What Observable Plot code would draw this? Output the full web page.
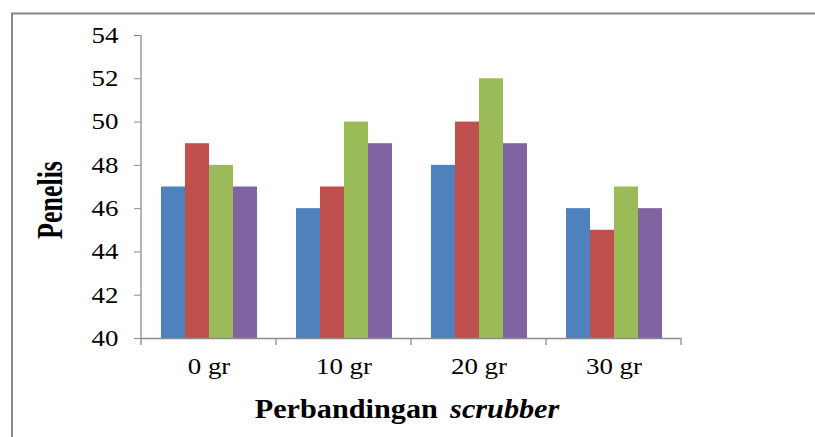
<!DOCTYPE html>
<html><head><meta charset="utf-8">
<script src="https://cdn.jsdelivr.net/npm/d3@7"></script>
<script src="https://cdn.jsdelivr.net/npm/@observablehq/plot@0.6"></script>
<style>body{margin:0;background:#fff} svg text{font-family:"Liberation Serif","Times New Roman",Times,serif;}</style>
</head><body><div id="chart"></div>
<script>
const groups = ["0 gr", "10 gr", "20 gr", "30 gr"];
const series = ["Seri 1", "Seri 2", "Seri 3", "Seri 4"];
const colors = ["#4F81BD", "#C0504D", "#9BBB59", "#8064A2"];
const seri1 = [47, 46, 48, 46];
const seri2 = [49, 47, 50, 45];
const seri3 = [48, 50, 52, 47];
const seri4 = [47, 49, 49, 46];
const yTicks = [40, 42, 44, 46, 48, 50, 52, 54];
const yLabel = "Penelis";
const xLabelMain = "Perbandingan";
const xLabelItalic = "scrubber";

const allSeries = [seri1, seri2, seri3, seri4];
const data = [];
groups.forEach((g, gi) => series.forEach((s, si) => data.push({group: g, series: s, value: allSeries[si][gi]})));

const font = "Liberation Serif, Times New Roman, Times, serif";
const axisColor = "#8c8c8c";

const chart = Plot.plot({
  width: 815, height: 437,
  marginLeft: 140, marginRight: 134, marginTop: 35, marginBottom: 99,
  style: {fontFamily: font, fontSize: "22px", color: "#000", background: "transparent", overflow: "visible"},
  fx: {domain: groups, padding: 0, label: null, axis: null},
  x: {domain: series, paddingInner: 0, paddingOuter: 0.77, axis: null},
  y: {domain: [yTicks[0], yTicks[yTicks.length - 1]], label: null},
  color: {domain: series, range: colors},
  marks: [
    Plot.barY(data, {fx: "group", x: "series", y: "value", fill: "series", clip: true}),
    Plot.ruleY([yTicks[0]], {stroke: axisColor, strokeWidth: 1.3}),
    Plot.axisY({ticks: yTicks, tickSize: 7, tickPadding: 16, stroke: axisColor, fill: "#000", label: null, tickFormat: d => d, fontSize: 23}),
    Plot.axisFx({anchor: "bottom", tickSize: 0, tickPadding: 19, label: null, fontSize: 23, fill: "#000"})
  ]
});
document.getElementById("chart").appendChild(chart);

const svg = d3.select(chart);

// widen tick labels horizontally about their anchor, like the reference
svg.selectAll("text").each(function () {
  const x = parseFloat(this.getAttribute("x")) || 0;
  const t = this.getAttribute("transform") || "";
  this.setAttribute("transform", `${t} translate(${x},0) scale(1.17,1) translate(${-x},0)`);
});

const fx = chart.scale("fx");
const y = chart.scale("y");
const y0 = y.apply(yTicks[0]);
const yTop = y.apply(yTicks[yTicks.length - 1]);
const bounds = groups.map(g => fx.apply(g)).concat([fx.apply(groups[groups.length - 1]) + fx.bandwidth]);
const g = svg.append("g").attr("stroke", axisColor).attr("stroke-width", 1.3);
g.append("line").attr("x1", bounds[0]).attr("x2", bounds[0]).attr("y1", yTop).attr("y2", y0);
bounds.forEach(b => g.append("line").attr("x1", b).attr("x2", b).attr("y1", y0).attr("y2", y0 + 7));

// chart border
svg.append("rect").attr("x", 12).attr("y", 13.5).attr("width", 820).attr("height", 440)
  .attr("fill", "none").attr("stroke", "#878787").attr("stroke-width", 2);

// axis titles
svg.append("text").attr("transform", `translate(62, 200) rotate(-90) scale(1,1.38)`)
  .attr("text-anchor", "middle").attr("font-weight", "bold").attr("font-size", 26)
  .attr("fill", "#000").text(yLabel);
const xt = svg.append("text").attr("transform", "translate(407, 418) scale(1.12,1)")
  .attr("text-anchor", "middle").attr("font-weight", "bold").attr("font-size", 27)
  .attr("fill", "#000");
xt.append("tspan").text(xLabelMain);
xt.append("tspan").attr("dx", 11).attr("font-style", "italic").text(xLabelItalic);
</script>
</body></html>
